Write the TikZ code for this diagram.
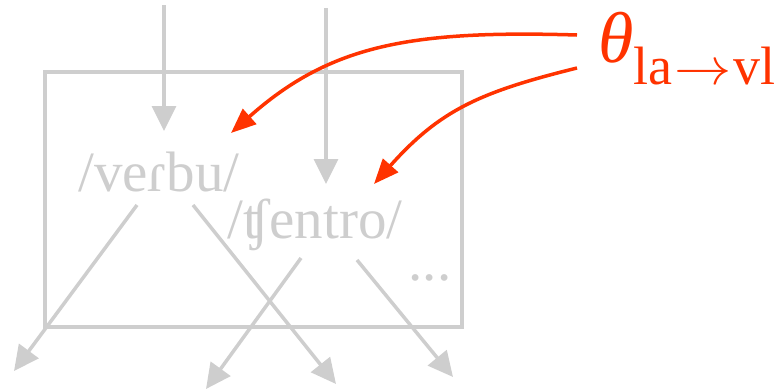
\documentclass[tikz,border=0pt]{standalone}
\usepackage{fontspec}
\setmainfont{Liberation Serif}
\usepackage{tikz}
\usetikzlibrary{arrows.meta}

\definecolor{lightgrey}{RGB}{206,206,206}
\definecolor{flamered}{RGB}{255,51,0}

\begin{document}
\begin{tikzpicture}[x=1pt,y=-1pt,
    greyline/.style={draw=lightgrey,line width=3.5pt,-{Triangle[length=25pt,width=24pt]}},
    redline/.style={draw=flamered,line width=3.5pt,-{Triangle[length=25pt,width=20pt]}},
    word/.style={text=lightgrey,inner sep=0pt,font=\fontsize{57}{62}\selectfont}]
      \useasboundingbox (0,0) rectangle (778,391);

      % Lexicon box
      \draw[lightgrey,line width=3.5pt] (45,72) rectangle (462,327);

      % Words
      \node[word] (verbu) at (159,172) {/veɾbu/};
      \node[word] (tsentro) at (315,225) {/ʧentro/};
      \node[word] (dots) at (430,278) {...};

      % Label
      \node[text=flamered,inner sep=0pt,anchor=base west] (theta) at (598,62)
          {\fontsize{72}{80}\selectfont\textit{θ}\fontsize{54}{60}\selectfont\raisebox{-22pt}{la\hspace{2pt}\scalebox{2.3}[2.1]{$\rightarrow$}\hspace{2pt}vl}};

      % Ends of the arrows
      \coordinate (intop1) at (164,5);
      \coordinate (intop2) at (326,8);
      \coordinate (inend1) at (164,131);
      \coordinate (inend2) at (326,184);
      \coordinate (vout1) at (137,205);
      \coordinate (vout2) at (193,205);
      \coordinate (tout1) at (301,258);
      \coordinate (tout2) at (357,260);
      \coordinate (vend1) at (14,371);
      \coordinate (vend2) at (336,384);
      \coordinate (tend1) at (206,389);
      \coordinate (tend2) at (453,377);
      \coordinate (thstart1) at (577,35);
      \coordinate (thstart2) at (577,68);
      \coordinate (thend1) at (231,133);
      \coordinate (thend2) at (374,184);

      % Incoming arrows
      \draw[greyline] (intop1) -- (inend1);
      \draw[greyline] (intop2) -- (inend2);

      % Outgoing arrows
      \draw[greyline] (vout1) -- (vend1);
      \draw[greyline] (vout2) -- (vend2);
      \draw[greyline] (tout1) -- (tend1);
      \draw[greyline] (tout2) -- (tend2);

      % Parameter arrows
      \draw[redline] (thstart1) .. controls (410,30) and (330,45) .. (thend1);
      \draw[redline] (thstart2) .. controls (480,92) and (440,110) .. (thend2);
\end{tikzpicture}
\end{document}
